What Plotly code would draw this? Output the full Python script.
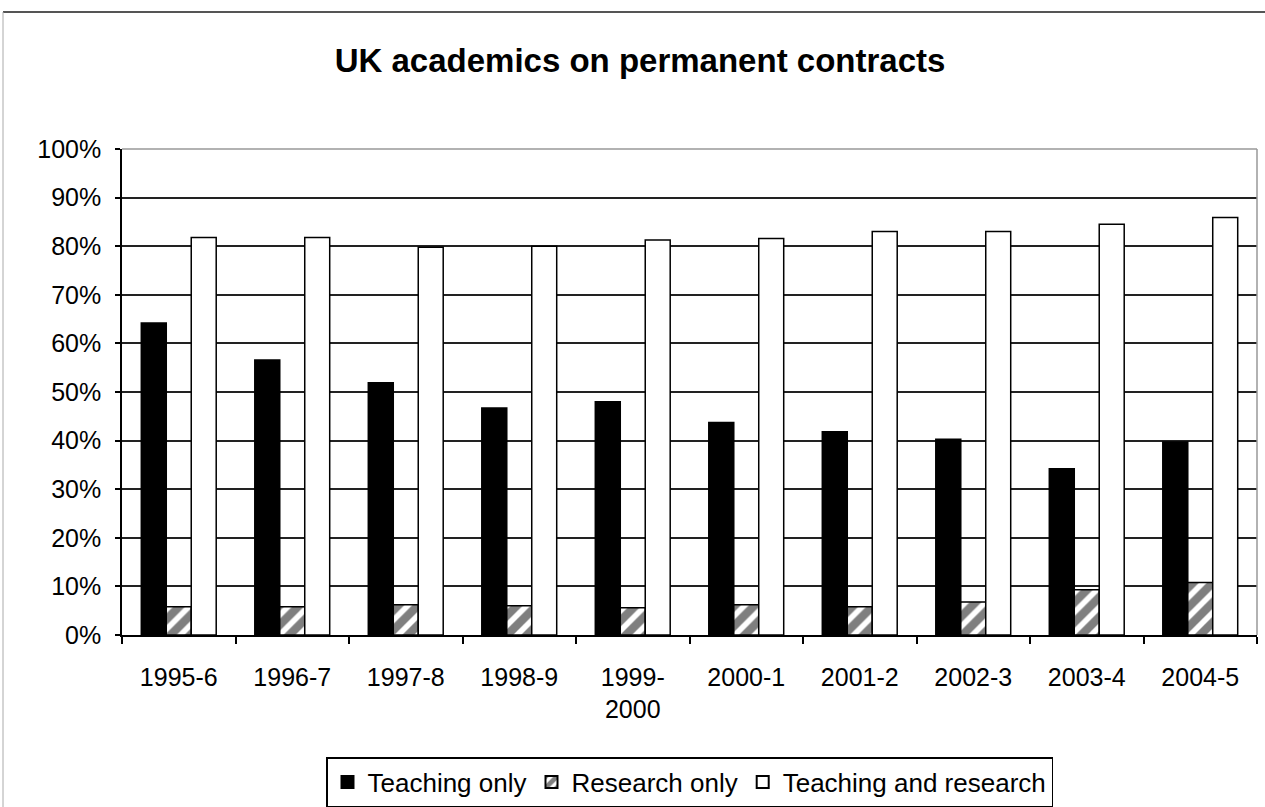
import plotly.graph_objects as go

years = ["1995-6", "1996-7", "1997-8", "1998-9", "1999-<br>2000",
         "2000-1", "2001-2", "2002-3", "2003-4", "2004-5"]
teaching_only = [64.2, 56.6, 51.9, 46.7, 48.0, 43.7, 41.8, 40.3, 34.2, 39.7]
research_only = [5.8, 5.8, 6.2, 6.0, 5.6, 6.2, 5.8, 6.8, 9.3, 10.8]
teaching_research = [81.8, 81.8, 79.8, 80.0, 81.3, 81.6, 83.0, 83.0, 84.5, 85.9]
y_ticks = [0, 10, 20, 30, 40, 50, 60, 70, 80, 90, 100]
y_tick_text = [f"{v}%" for v in y_ticks]

FONT = "Liberation Sans, Arial, sans-serif"
W, H = 1265, 807
L, R, T, B = 122, 8, 149, 172

fig = go.Figure()
fig.add_trace(go.Bar(
    x=years, y=teaching_only, name="Teaching only",
    marker=dict(color="black", line=dict(color="black", width=1.5)),
))
fig.add_trace(go.Bar(
    x=years, y=research_only, name="Research only",
    marker=dict(color="white", line=dict(color="black", width=1.5),
                pattern=dict(shape="/", fgcolor="black", bgcolor="white",
                             size=14, solidity=0.6)),
))
fig.add_trace(go.Bar(
    x=years, y=teaching_research, name="Teaching and research",
    marker=dict(color="white", line=dict(color="black", width=1.5)),
))

pw = W - L - R
ph = H - T - B

fig.update_layout(
    width=W, height=H,
    margin=dict(l=L, r=R, t=T, b=B, pad=0, autoexpand=False),
    paper_bgcolor="white", plot_bgcolor="white",
    barmode="group", bargap=0.34, bargroupgap=0,
    font=dict(family=FONT, size=25, color="black"),
    title=dict(text="<b>UK academics on permanent contracts</b>",
               x=640 / W, xanchor="center", xref="container",
               y=1 - 60 / H, yref="container", yanchor="middle",
               font=dict(family=FONT, size=33, color="black")),
    showlegend=True,
    legend=dict(orientation="h", x=0.5, xanchor="center",
                y=(T + ph - 757) / ph, yanchor="top",
                bordercolor="black", borderwidth=1.5, bgcolor="white",
                font=dict(family=FONT, size=26, color="black"),
                itemsizing="constant", traceorder="normal"),
    xaxis=dict(type="category", showgrid=False, showline=True,
               linecolor="black", linewidth=1.5, automargin=False,
               ticks="outside", tickson="boundaries", ticklen=7,
               tickcolor="black", tickwidth=1.5,
               ticklabelstandoff=19,
               tickfont=dict(family=FONT, size=25, color="black")),
    yaxis=dict(range=[0, 100], tickmode="array", tickvals=y_ticks,
               ticktext=y_tick_text, automargin=False,
               showgrid=True, gridcolor="#222222", gridwidth=1.5,
               showline=True, linecolor="black", linewidth=1.5,
               ticks="outside", ticklen=5, tickcolor="black", tickwidth=1.5,
               ticklabelstandoff=9, zeroline=False,
               tickfont=dict(family=FONT, size=25, color="black")),
    shapes=[
        # plot area top and right border (grey)
        dict(type="line", xref="paper", yref="paper", x0=0, x1=1, y0=1, y1=1,
             line=dict(color="#999999", width=1.5), layer="above"),
        dict(type="line", xref="paper", yref="paper", x0=1, x1=1, y0=0, y1=1,
             line=dict(color="#999999", width=1.5), layer="above"),
        # outer chart frame
        dict(type="line", xref="paper", yref="paper",
             x0=(3 - L) / pw, x1=1.2, y0=(T + ph - 12) / ph, y1=(T + ph - 12) / ph,
             line=dict(color="#555555", width=2)),
        dict(type="line", xref="paper", yref="paper",
             x0=(3 - L) / pw, x1=(3 - L) / pw, y0=-0.5, y1=(T + ph - 12) / ph,
             line=dict(color="#aaaaaa", width=1)),
    ],
)

fig.write_html("out.html", config={"displayModeBar": False},
               post_script="document.body.style.margin='0px';document.body.style.padding='0px';")
